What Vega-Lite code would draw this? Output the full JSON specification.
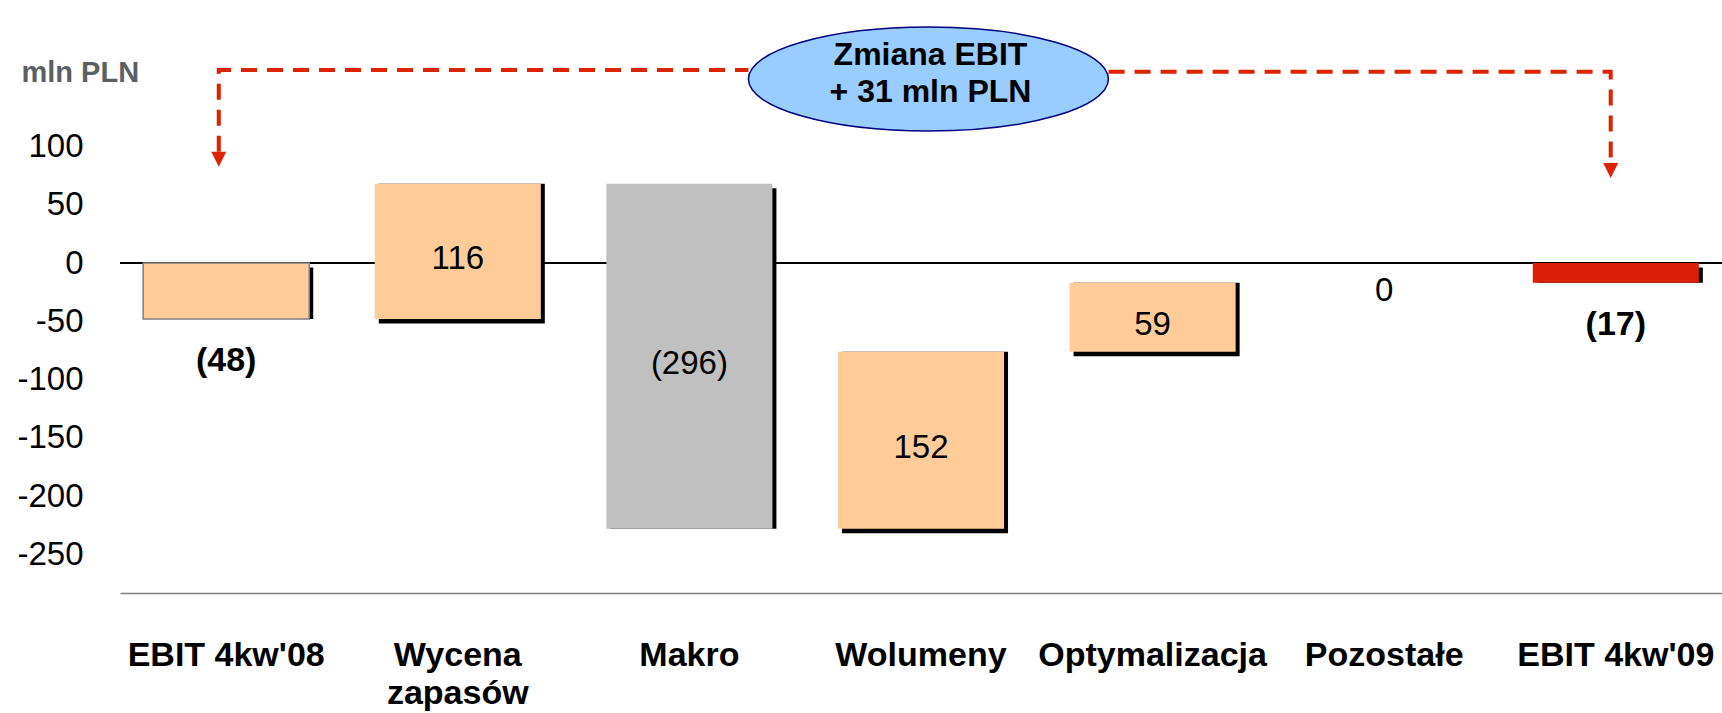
{
  "$schema": "https://vega.github.io/schema/vega-lite/v6.json",
  "width": 1602,
  "height": 593,
  "autosize": {"type": "none"},
  "padding": {"left": 120, "top": 0, "right": 0, "bottom": 120},
  "background": "white",
  "config": {"view": {"stroke": null}, "font": "Liberation Sans"},
  "datasets": {
    "bars": [
      {"cat": "EBIT 4kw'08", "start": 0, "end": -48, "group": "start", "label": "(48)"},
      {"cat": "Wycena zapasów", "start": -48, "end": 68, "group": "increase", "label": "116"},
      {"cat": "Makro", "start": 68, "end": -228, "group": "decrease", "label": "(296)"},
      {"cat": "Wolumeny", "start": -228, "end": -76, "group": "increase", "label": "152"},
      {"cat": "Optymalizacja", "start": -76, "end": -17, "group": "increase", "label": "59"},
      {"cat": "Pozostałe", "start": -17, "end": -17, "group": "increase", "label": "0"},
      {"cat": "EBIT 4kw'09", "start": 0, "end": -17, "group": "end", "label": "(17)"}
    ],
    "path": [
      {"seg": "left", "ord": 0, "xi": -0.032, "v": 95.5},
      {"seg": "left", "ord": 1, "xi": -0.032, "v": 165.6},
      {"seg": "left", "ord": 2, "xi": 2.255, "v": 165.6},
      {"seg": "right", "ord": 0, "xi": 3.81, "v": 164.1},
      {"seg": "right", "ord": 1, "xi": 5.978, "v": 164.1},
      {"seg": "right", "ord": 2, "xi": 5.978, "v": 85.8}
    ],
    "arrows": [
      {"xi": -0.032, "v": 89.1},
      {"xi": 5.978, "v": 79.4}
    ],
    "bubble": [
      {"xi": 3.032, "v": 157.8}
    ],
    "bubbleText": [
      {"xi": 3.041, "v": 169.8, "t": "Zmiana EBIT"},
      {"xi": 3.041, "v": 138.4, "t": "+ 31 mln PLN"}
    ]
  },
  "layer": [
    {
      "data": {"name": "bars"},
      "transform": [
        {"calculate": "(datum.start + datum.end) / 2", "as": "mid"},
        {"calculate": "min(datum.start, datum.end)", "as": "low"}
      ],
      "layer": [
        {
          "mark": {"type": "rule", "color": "#000000", "strokeWidth": 2},
          "encoding": {
            "y": {"datum": 0, "type": "quantitative", "scale": {"domain": [-283, 225.6], "nice": false, "zero": false}}
          }
        },
        {
          "mark": {"type": "bar", "color": "#000000", "xOffset": 4, "yOffset": 4.5},
          "encoding": {
            "x": {"field": "cat", "type": "nominal", "sort": null, "scale": {"paddingInner": 0.283, "paddingOuter": 0.1}},
            "y": {"field": "start", "type": "quantitative", "scale": {"domain": [-283, 225.6], "nice": false, "zero": false}},
            "y2": {"field": "end"},
            "opacity": {"condition": {"test": "datum.start == datum.end", "value": 0}, "value": 1}
          }
        },
        {
          "mark": {"type": "bar", "stroke": "#7F7F7F", "opacity": 1},
          "encoding": {
            "x": {
              "field": "cat", "type": "nominal", "sort": null,
              "scale": {"paddingInner": 0.283, "paddingOuter": 0.1},
              "axis": {
                "title": null, "orient": "bottom", "ticks": false, "domain": true,
                "domainColor": "#7F7F7F", "domainWidth": 1.5, "labelAngle": 0,
                "labelAlign": "center",
                "labelFontSize": 34, "labelFontWeight": "bold", "labelColor": "#000000",
                "labelPadding": 45, "labelLineHeight": 38, "labelBaseline": "top",
                "labelLimit": 0, "labelOverlap": false,
                "labelExpr": "datum.value == 'Wycena zapasów' ? ['Wycena', 'zapasów'] : datum.value"
              }
            },
            "y": {
              "field": "start", "type": "quantitative",
              "scale": {"domain": [-283, 225.6], "nice": false, "zero": false},
              "axis": {
                "title": "mln PLN", "values": [100, 50, 0, -50, -100, -150, -200, -250],
                "grid": false, "ticks": false, "domain": false,
                "labelFontSize": 33, "labelColor": "#000000", "labelPadding": 37,
                "labelExpr": "'' + datum.value",
                "titleAngle": 0, "titleFontSize": 29, "titleFontWeight": "bold",
                "titleColor": "#5A5F64", "titleAlign": "left", "titleBaseline": "alphabetic",
                "titleX": -99, "titleY": 81
              }
            },
            "y2": {"field": "end"},
            "color": {
              "field": "group", "type": "nominal",
              "scale": {"domain": ["start", "increase", "decrease", "end"], "range": ["#FFCC99", "#FFCC99", "#C0C0C0", "#D92008"]},
              "legend": null
            },
            "strokeWidth": {"condition": {"test": "datum.group == 'start'", "value": 1.5}, "value": 0}
          }
        },
        {
          "transform": [{"filter": "datum.group == 'increase' || datum.group == 'decrease'"}],
          "mark": {"type": "text", "fontSize": 33, "color": "#000000", "baseline": "middle", "align": "center", "dy": 8},
          "encoding": {
            "x": {"field": "cat", "type": "nominal", "sort": null, "scale": {"paddingInner": 0.283, "paddingOuter": 0.1}},
            "y": {"field": "mid", "type": "quantitative", "scale": {"domain": [-283, 225.6], "nice": false, "zero": false}},
            "text": {"field": "label"}
          }
        },
        {
          "transform": [{"filter": "datum.group == 'start' || datum.group == 'end'"}],
          "mark": {"type": "text", "fontSize": 34, "fontWeight": "bold", "color": "#000000", "baseline": "middle", "align": "center", "dy": 42},
          "encoding": {
            "x": {"field": "cat", "type": "nominal", "sort": null, "scale": {"paddingInner": 0.283, "paddingOuter": 0.1}},
            "y": {"field": "low", "type": "quantitative", "scale": {"domain": [-283, 225.6], "nice": false, "zero": false}},
            "text": {"field": "label"}
          }
        }
      ]
    },
    {
      "layer": [
        {
          "data": {"name": "path"},
          "mark": {"type": "line", "color": "#DD2200", "strokeWidth": 4, "strokeDash": [16, 10], "strokeCap": "butt"},
          "encoding": {
            "x": {"field": "xi", "type": "quantitative", "scale": {"domain": [-0.4585, 6.4585], "nice": false, "zero": false}, "axis": null},
            "y": {"field": "v", "type": "quantitative", "scale": {"domain": [-283, 225.6], "nice": false, "zero": false}},
            "detail": {"field": "seg"},
            "order": {"field": "ord"}
          }
        },
        {
          "data": {"name": "arrows"},
          "mark": {"type": "point", "shape": "M -1 -1 L 1 -1 L 0 1 Z", "size": 225, "filled": true, "color": "#DD2200", "opacity": 1, "strokeWidth": 0},
          "encoding": {
            "x": {"field": "xi", "type": "quantitative", "scale": {"domain": [-0.4585, 6.4585], "nice": false, "zero": false}, "axis": null},
            "y": {"field": "v", "type": "quantitative", "scale": {"domain": [-283, 225.6], "nice": false, "zero": false}}
          }
        },
        {
          "data": {"name": "bubble"},
          "mark": {
            "type": "point",
            "shape": "M -1 0 C -1 -0.1596 -0.5523 -0.2889 0 -0.2889 C 0.5523 -0.2889 1 -0.1596 1 0 C 1 0.1596 0.5523 0.2889 0 0.2889 C -0.5523 0.2889 -1 0.1596 -1 0 Z",
            "size": 129600, "filled": true, "fill": "#99CCFF", "stroke": "#000080", "strokeWidth": 1.5, "opacity": 1
          },
          "encoding": {
            "x": {"field": "xi", "type": "quantitative", "scale": {"domain": [-0.4585, 6.4585], "nice": false, "zero": false}, "axis": null},
            "y": {"field": "v", "type": "quantitative", "scale": {"domain": [-283, 225.6], "nice": false, "zero": false}}
          }
        },
        {
          "data": {"name": "bubbleText"},
          "mark": {"type": "text", "fontSize": 32, "fontWeight": "bold", "color": "#000000", "align": "center", "baseline": "alphabetic"},
          "encoding": {
            "x": {"field": "xi", "type": "quantitative", "scale": {"domain": [-0.4585, 6.4585], "nice": false, "zero": false}, "axis": null},
            "y": {"field": "v", "type": "quantitative", "scale": {"domain": [-283, 225.6], "nice": false, "zero": false}},
            "text": {"field": "t"}
          }
        }
      ]
    }
  ],
  "resolve": {"scale": {"x": "independent"}}
}
